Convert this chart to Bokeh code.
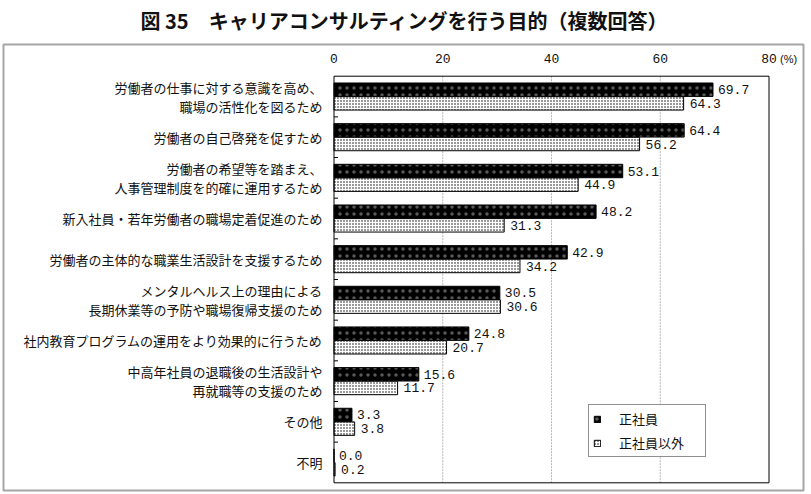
from bokeh.plotting import figure
from bokeh.models import Range1d, ColumnDataSource
from bokeh.transform import dodge
from bokeh.core.properties import value
from bokeh.embed import file_html
from bokeh.resources import INLINE

categories = [
    "労働者の仕事に対する意識を高め、\n職場の活性化を図るため",
    "労働者の自己啓発を促すため",
    "労働者の希望等を踏まえ、\n人事管理制度を的確に運用するため",
    "新入社員・若年労働者の職場定着促進のため",
    "労働者の主体的な職業生活設計を支援するため",
    "メンタルヘルス上の理由による\n長期休業等の予防や職場復帰支援のため",
    "社内教育プログラムの運用をより効果的に行うため",
    "中高年社員の退職後の生活設計や\n再就職等の支援のため",
    "その他",
    "不明",
]
regular = [69.7, 64.4, 53.1, 48.2, 42.9, 30.5, 24.8, 15.6, 3.3, 0.0]
non_regular = [64.3, 56.2, 44.9, 31.3, 34.2, 30.6, 20.7, 11.7, 3.8, 0.2]
x_ticks = [0, 20, 40, 60, 80]
series_names = ["正社員", "正社員以外"]
title_text = "図 35　キャリアコンサルティングを行う目的（複数回答）"
unit_text = "(%)"

JP = "Noto Sans CJK JP"
NUM = "Liberation Mono"
n = len(categories)
top_edge = -0.5
bottom_edge = n - 0.5

src = ColumnDataSource(dict(
    idx=list(range(n)),
    cat=categories,
    reg=regular,
    non=non_regular,
    reg_lbl=[f"{v:.1f}" for v in regular],
    non_lbl=[f"{v:.1f}" for v in non_regular],
))

# ---- layout (page is one frame; the chart box sits inside it) ----
W, H = 808, 492
PX_X = 5.4375          # pixels per percent
PX_Y = 40.66           # pixels per category row
X0_PX, Y0_PX = 333.5, 75.7   # pixel position of x=0 and of the top of the chart box


def dx(px):
    return (px - X0_PX) / PX_X


def dy(py):
    return top_edge + (py - Y0_PX) / PX_Y


p = figure(width=W, height=H,
           x_range=Range1d(dx(0), dx(W)), y_range=Range1d(dy(H), dy(0)),
           output_backend="svg", toolbar_location=None,
           x_axis_location=None, y_axis_location=None, min_border=0)

p.background_fill_color = "white"
p.border_fill_color = "white"
p.outline_line_color = None
p.xgrid.visible = False
p.ygrid.visible = False

# outer gray box
p.quad(left=[dx(3)], right=[dx(803)], top=[dy(44)], bottom=[dy(490)],
       fill_color=None, line_color="#a6a6a6", line_width=2)

# title
p.text(x=[dx(140)], y=[dy(19.5)], text=[title_text], text_align="left",
       text_baseline="middle", text_font=value(JP), text_font_size="20px",
       text_font_style="bold", text_color="#111")

# vertical grid lines (20, 40, 60)
inner = x_ticks[1:-1]
p.segment(x0=inner, x1=inner, y0=[top_edge] * len(inner), y1=[bottom_edge] * len(inner),
          line_color="#b8b8b8", line_width=1, line_dash="2 1")

# bars
off = 0.168
bh = 0.33
p.hbar(y=dodge("idx", -off), left=0, right="reg", height=bh, source=src,
       fill_color="black", line_color="black", line_width=1,
       hatch_pattern="dot", hatch_color="white", hatch_scale=7, hatch_alpha=0.35,
       legend_label=series_names[0])
p.hbar(y=dodge("idx", off), left=0, right="non", height=bh, source=src,
       fill_color="white", line_color="black", line_width=1,
       hatch_pattern="dot", hatch_color="black", hatch_scale=3, hatch_weight=0.8,
       legend_label=series_names[1])

# chart box (0..80 x all categories)
p.quad(left=[x_ticks[0]], right=[x_ticks[-1]], top=[top_edge], bottom=[bottom_edge],
       fill_color=None, line_color="black", line_width=1)

# small inward ticks at category boundaries
p.ray(x=[0] * (n - 1), y=[i + 0.5 for i in range(n - 1)], length=4,
      length_units="screen", angle=0, line_color="black", line_width=1)

# top tick labels
p.text(x=x_ticks, y=[top_edge] * len(x_ticks), text=[str(t) for t in x_ticks],
       y_offset=-17.5, text_align="center", text_baseline="middle",
       text_font=value(NUM), text_font_size="13px", text_color="#111")
p.text(x=[x_ticks[-1]], y=[top_edge], text=[unit_text], x_offset=11, y_offset=-17.5,
       text_align="left", text_baseline="middle",
       text_font=value("Liberation Sans"), text_font_size="11px", text_color="#111")

# category labels
p.text(x=0, y="idx", text="cat", source=src, x_offset=-11.5,
       text_align="right", text_baseline="middle", text_line_height=1.0,
       text_font=value(JP), text_font_size="13px", text_color="#111")

# value labels
p.text(x="reg", y=dodge("idx", -off), text="reg_lbl", source=src, x_offset=5,
       text_baseline="middle", text_align="left", text_font=value(NUM),
       text_font_size="13px", text_color="#111")
p.text(x="non", y=dodge("idx", off), text="non_lbl", source=src, x_offset=6,
       text_baseline="middle", text_align="left", text_font=value(NUM),
       text_font_size="13px", text_color="#111")

lg = p.legend[0]
lg.location = (588, H - 457)
lg.border_line_color = "#222"
lg.border_line_width = 1
lg.background_fill_color = "white"
lg.background_fill_alpha = 1
lg.padding = 4
lg.spacing = 5
lg.margin = 0
lg.glyph_width = 8
lg.glyph_height = 8
lg.label_height = 14
lg.label_width = 82
lg.label_standoff = 18
lg.label_text_font = JP
lg.label_text_font_size = "13px"
lg.label_text_color = "#111"

open("out.html", "w").write(file_html(p, INLINE))
